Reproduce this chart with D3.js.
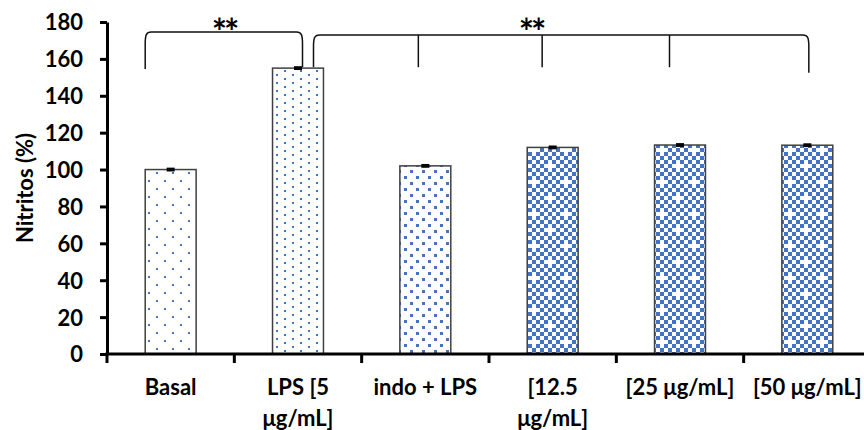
<!DOCTYPE html>
<html>
<head>
<meta charset="utf-8">
<script src="https://cdn.jsdelivr.net/npm/d3@7"></script>
<style>
  html, body { margin: 0; padding: 0; background: #fff; }
  svg text { font-family: Lato, "Open Sans", sans-serif; font-weight: bold; fill: #000; }
</style>
</head>
<body>
<div id="chart"></div>
<script>
const categories = ["Basal", "LPS [5 μg/mL]", "indo + LPS", "[12.5 μg/mL]", "[25 μg/mL]", "[50 μg/mL]"];
const labelLines = [["Basal"], ["LPS [5", "μg/mL]"], ["indo + LPS"], ["[12.5", "μg/mL]"], ["[25 μg/mL]"], ["[50 μg/mL]"]];
const values = [100, 155, 102, 112, 113.3, 113.2];
const errors = [0.5, 0.5, 0.5, 0.5, 0.5, 0.5];
const fills = ["dots16", "dots8", "dots12", "checker", "checker", "checker"];
const yTicks = [0, 20, 40, 60, 80, 100, 120, 140, 160, 180];

(function draw() {
    const width = 864;
    const height = 430;
    const blue = "#4472C4";
    const fontSize = 22;

    const svg = d3.select("#chart").append("svg")
        .attr("width", width)
        .attr("height", height);

    const x = d3.scaleBand().domain(categories).range([107, 871]).paddingInner(0.6).paddingOuter(0.3);
    const y = d3.scaleLinear().domain([0, 180]).range([354, 22]);
    const step = x.step();
    const bw = x.bandwidth();

    // fill patterns
    const defs = svg.append("defs");
    function dotPattern(id, w, h, pts, size) {
        const p = defs.append("pattern").attr("id", id)
            .attr("patternUnits", "userSpaceOnUse")
            .attr("width", w).attr("height", h);
        p.append("rect").attr("width", w).attr("height", h).attr("fill", "#fff");
        pts.forEach(([px, py]) => {
            p.append("rect").attr("x", px).attr("y", py)
                .attr("width", size).attr("height", size).attr("fill", blue);
        });
    }
    dotPattern("dots16", 16, 16, [[4, 4], [12, 12]], 2);
    dotPattern("dots8", 16, 8, [[4, 2], [12, 6]], 2);
    dotPattern("dots12", 12, 12, [[2, 2], [8, 8]], 3);

    const c = 4;
    const checker = defs.append("pattern").attr("id", "checker")
        .attr("patternUnits", "userSpaceOnUse")
        .attr("width", c * 8).attr("height", c * 8);
    checker.append("rect").attr("width", c * 8).attr("height", c * 8).attr("fill", "#fff");
    for (let i = 0; i < 8; i += 1) {
        for (let j = 0; j < 8; j += 1) {
            if ((i + j) % 2 !== 0) continue;
            if ((i === 1 && j === 1) || (i === 5 && j === 5)) continue;
            checker.append("rect").attr("x", i * c).attr("y", j * c)
                .attr("width", c).attr("height", c).attr("fill", blue);
        }
    }

    // bars
    svg.append("g").selectAll("rect")
        .data(categories)
        .join("rect")
        .attr("x", d => x(d))
        .attr("y", (d, i) => y(values[i]))
        .attr("width", bw)
        .attr("height", (d, i) => y(0) - y(values[i]))
        .attr("fill", (d, i) => `url(#${fills[i]})`)
        .attr("stroke", "#404040")
        .attr("stroke-width", 1.5);

    // error bars
    const eb = svg.append("g").attr("stroke", "#000").attr("stroke-width", 2);
    categories.forEach((d, i) => {
        const cx = x(d) + bw / 2;
        [values[i] - errors[i], values[i] + errors[i]].forEach(v => {
            eb.append("line").attr("x1", cx - 4).attr("x2", cx + 4)
                .attr("y1", y(v)).attr("y2", y(v));
        });
        eb.append("line").attr("x1", cx).attr("x2", cx)
            .attr("y1", y(values[i] - errors[i])).attr("y2", y(values[i] + errors[i]));
    });

    // y axis
    const yAxis = svg.append("g")
        .attr("transform", "translate(107,0)")
        .call(d3.axisLeft(y).tickValues(yTicks).tickSize(7).tickPadding(17).tickSizeOuter(0));
    yAxis.select(".domain").attr("stroke", "#000").attr("stroke-width", 3);
    yAxis.selectAll(".tick line").attr("stroke", "#000").attr("stroke-width", 3);
    yAxis.selectAll(".tick text").attr("font-size", fontSize).attr("font-family", null)
        .attr("dy", "0.36em");

    // x axis
    const xg = svg.append("g");
    xg.append("line").attr("x1", 105.5).attr("x2", 871)
        .attr("y1", y(0)).attr("y2", y(0))
        .attr("stroke", "#000").attr("stroke-width", 3);
    categories.forEach(d => {
        const bx = x(d) - step * 0.3;
        xg.append("line").attr("x1", bx).attr("x2", bx)
            .attr("y1", y(0)).attr("y2", y(0) + 9)
            .attr("stroke", "#000").attr("stroke-width", 3);
    });
    categories.forEach((d, i) => {
        const t = xg.append("text")
            .attr("x", x(d) + bw / 2)
            .attr("y", 395)
            .attr("text-anchor", "middle")
            .attr("font-size", fontSize);
        labelLines[i].forEach((line, k) => {
            t.append("tspan").attr("x", x(d) + bw / 2).attr("dy", k === 0 ? 0 : 31).text(line);
        });
    });

    // y label
    svg.append("text")
        .attr("transform", "translate(33,188) rotate(-90)")
        .attr("text-anchor", "middle")
        .attr("font-size", fontSize)
        .text("Nitritos (%)");

    // significance brackets
    const br = svg.append("g").attr("fill", "none").attr("stroke", "#111").attr("stroke-width", 1.5);
    function bracket(x0, x1, top, b0, b1) {
        br.append("path").attr("d",
            `M${x0},${b0} L${x0},${top + 12} C${x0},${top + 3} ${x0 + 1},${top} ${x0 + 6},${top}` +
            ` L${x1 - 6},${top} C${x1 - 1},${top} ${x1},${top + 3} ${x1},${top + 12} L${x1},${b1}`);
    }
    const cen = d => x(d) + bw / 2;
    bracket(x(categories[0]), cen(categories[1]) + 4.5, y(174.6), y(154.5), y(155.5));
    bracket(cen(categories[1]) + 15.5, cen(categories[5]) + 1.5, y(173), y(155.5), y(152.5));
    [2, 3, 4].forEach(i => {
        const tx = cen(categories[i]) - (i === 2 ? 7 : 10.5);
        br.append("line").attr("x1", tx).attr("x2", tx).attr("y1", y(173)).attr("y2", y(155.5));
    });

    [224, 531].forEach(sx => {
        svg.append("text").attr("x", sx).attr("y", 45).attr("text-anchor", "middle")
            .attr("font-family", "DejaVu Sans").attr("font-weight", "bold")
            .attr("letter-spacing", -3)
            .attr("font-size", 36).text("**");
    });
}());
</script>
</body>
</html>
